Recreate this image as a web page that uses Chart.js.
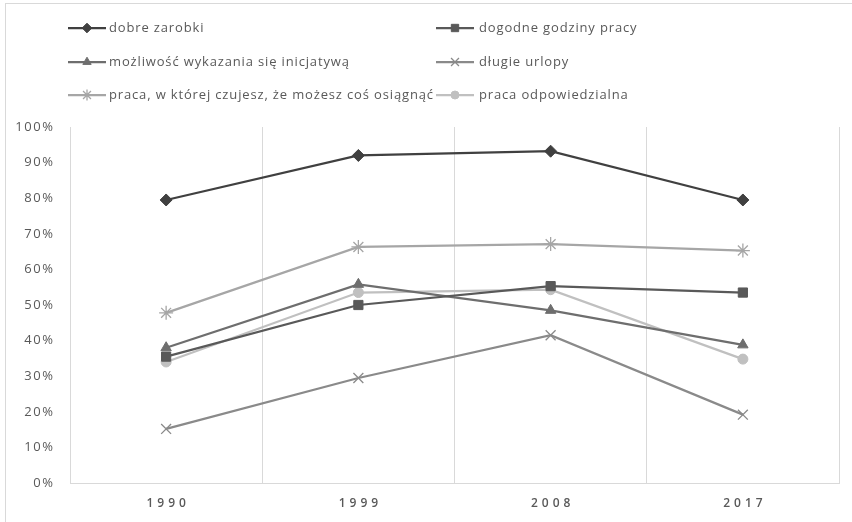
<!DOCTYPE html>
<html>
<head>
<meta charset="utf-8">
<script src="https://cdn.jsdelivr.net/npm/chart.js@4/dist/chart.umd.min.js"></script>
<style>
  html, body { margin: 0; padding: 0; background: #ffffff; }
  #wrap { width: 852px; height: 522px; position: relative; }
</style>
</head>
<body>
<div id="wrap"><canvas id="c" width="852" height="522"></canvas></div>
<script>
// Survey years on the category axis
const years = ['1990', '1999', '2008', '2017'];

// Share of respondents (%) naming each job feature as important
const dobreZarobki = [79.5, 92.0, 93.2, 79.5];
const dogodneGodziny = [35.5, 50.0, 55.3, 53.5];
const mozliwoscInicjatywy = [38.0, 55.8, 48.5, 38.8];
const dlugieUrlopy = [15.2, 29.5, 41.5, 19.2];
const pracaOsiagniecia = [47.8, 66.3, 67.1, 65.3];
const pracaOdpowiedzialna = [34.0, 53.5, 54.3, 34.8];

// Value axis ticks (percent)
const yTicks = [0, 10, 20, 30, 40, 50, 60, 70, 80, 90, 100];

const seriesNames = [
  'dobre zarobki',
  'dogodne godziny pracy',
  'możliwość wykazania się inicjatywą',
  'długie urlopy',
  'praca, w której czujesz, że możesz coś osiągnąć',
  'praca odpowiedzialna'
];

const FONT = '"Open Sans", "Noto Sans", sans-serif';
const TEXT = '#595959';
const GRID = '#d9d9d9';

function series(label, data, color, style, radius, bw) {
  return {
    label, data,
    borderColor: color,
    backgroundColor: color,
    pointBackgroundColor: color,
    pointBorderColor: color,
    pointStyle: style,
    pointRadius: radius,
    pointHoverRadius: radius,
    pointBorderWidth: bw,
    borderWidth: 2.25,
    tension: 0,
    fill: false
  };
}

const datasets = [
  series(seriesNames[0], dobreZarobki, '#404040', 'rectRot', 6, 1),
  series(seriesNames[1], dogodneGodziny, '#595959', 'rect', 6.5, 1),
  series(seriesNames[2], mozliwoscInicjatywy, '#6e6e6e', 'triangle', 6, 1),
  series(seriesNames[3], dlugieUrlopy, '#8a8a8a', 'crossRot', 7, 1.3),
  series(seriesNames[4], pracaOsiagniecia, '#a6a6a6', 'star', 7, 1.3),
  series(seriesNames[5], pracaOdpowiedzialna, '#c0c0c0', 'circle', 5, 1)
];

// Frame around the whole chart (only top and left edges are inside the canvas)
const framePlugin = {
  id: 'frame',
  beforeDraw(chart) {
    const ctx = chart.ctx;
    ctx.save();
    ctx.fillStyle = '#ffffff';
    ctx.fillRect(0, 0, chart.width, chart.height);
    ctx.strokeStyle = GRID;
    ctx.lineWidth = 1;
    ctx.strokeRect(5.5, 3.5, chart.width + 20, chart.height + 20);
    ctx.restore();
  }
};

// Wider letter spacing for the axis labels
function spaceLabels(chart, scale, spacing, dx, dy) {
  if (!scale || scale._spaced) return;
  const orig = scale.drawLabels.bind(scale);
  scale.drawLabels = function (area) {
    const ctx = chart.ctx;
    ctx.save();
    ctx.letterSpacing = spacing;
    ctx.translate(dx, dy);
    orig(area);
    ctx.restore();
  };
  scale._spaced = true;
}

const spacedLabels = {
  id: 'spacedLabels',
  beforeDraw(chart) {
    spaceLabels(chart, chart.scales.x, '4px', 2, 0);
    spaceLabels(chart, chart.scales.y, '1.6px', 1.6, 0);
  }
};

// Two-column legend at the top
const legendPlugin = {
  id: 'twoColLegend',
  afterDraw(chart) {
    const ctx = chart.ctx;
    const rows = [28, 62, 95];
    const cols = [{ x0: 68, x1: 106, tx: 109 }, { x0: 436, x1: 474, tx: 479 }];
    const drawPoint = Chart.helpers && Chart.helpers.drawPoint;
    chart.data.datasets.forEach((ds, i) => {
      const y = rows[Math.floor(i / 2)];
      const c = cols[i % 2];
      ctx.save();
      ctx.strokeStyle = ds.borderColor;
      ctx.fillStyle = ds.borderColor;
      ctx.lineWidth = 2.25;
      ctx.beginPath();
      ctx.moveTo(c.x0, y);
      ctx.lineTo(c.x1, y);
      ctx.stroke();
      const mx = (c.x0 + c.x1) / 2;
      ctx.lineWidth = ds.pointBorderWidth;
      if (drawPoint) {
        drawPoint(ctx, {
          pointStyle: ds.pointStyle,
          radius: ds.pointRadius * 0.8,
          rotation: 0,
          borderWidth: ds.pointBorderWidth
        }, mx, y);
      } else {
        ctx.beginPath();
        ctx.arc(mx, y, 4, 0, Math.PI * 2);
        ctx.fill();
      }
      ctx.fillStyle = TEXT;
      ctx.font = '13px ' + FONT;
      ctx.letterSpacing = '0.85px';
      ctx.textBaseline = 'middle';
      ctx.textAlign = 'left';
      ctx.fillText(ds.label, c.tx, y);
      ctx.restore();
    });
  }
};

new Chart(document.getElementById('c'), {
  type: 'line',
  data: { labels: years, datasets },
  plugins: [framePlugin, spacedLabels, legendPlugin],
  options: {
    responsive: false,
    animation: false,
    devicePixelRatio: 1,
    layout: { padding: { top: 127, right: 13, bottom: 0, left: 0 } },
    plugins: {
      legend: { display: false },
      tooltip: { enabled: false },
      title: { display: false }
    },
    scales: {
      x: {
        type: 'category',
        offset: true,
        grid: { display: true, offset: true, color: GRID, lineWidth: 1, drawTicks: false },
        border: { display: true, color: GRID, width: 1 },
        ticks: { color: TEXT, font: { family: FONT, size: 12, weight: '600' }, padding: 13 },
        afterFit(s) { s.height = 39; }
      },
      y: {
        min: 0,
        max: 100,
        afterBuildTicks(s) { s.ticks = yTicks.map(v => ({ value: v })); },
        grid: { display: false, drawTicks: false },
        border: { display: false },
        ticks: {
          color: TEXT,
          font: { family: FONT, size: 13 },
          padding: 17,
          callback: v => v + '%'
        },
        afterFit(s) { s.width = 70; }
      }
    }
  }
});
</script>
</body>
</html>
